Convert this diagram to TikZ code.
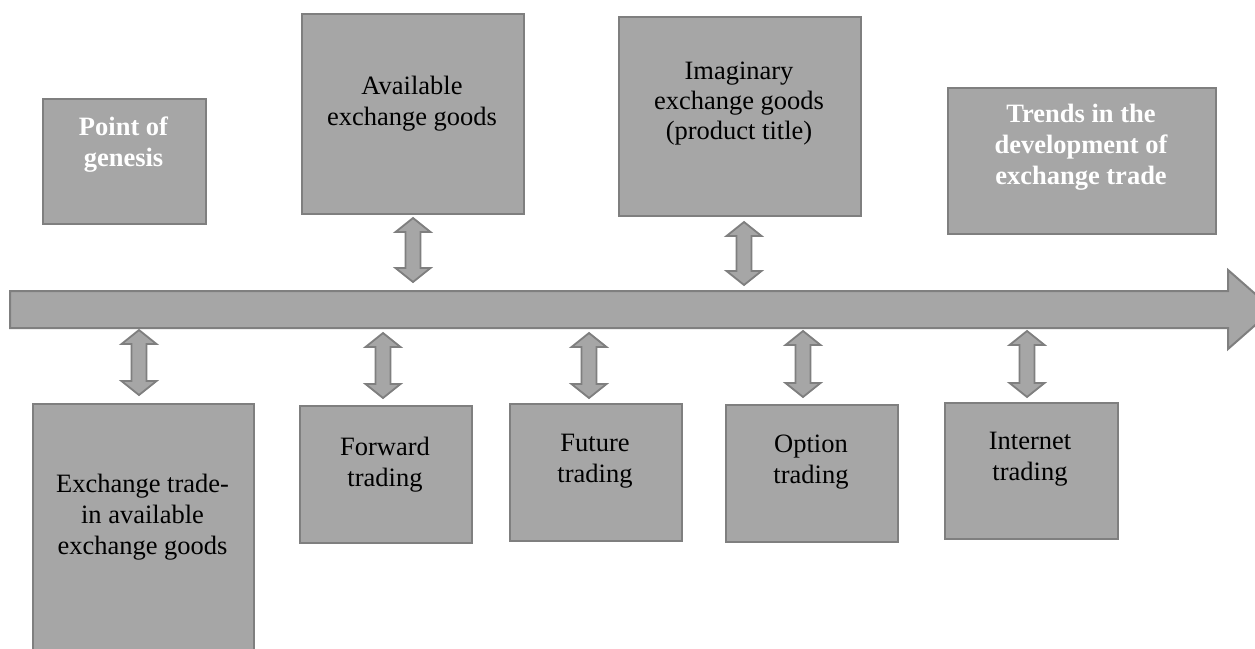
\documentclass[tikz,border=0pt]{standalone}
\usepackage{fontspec}
\setmainfont{Liberation Serif}
\definecolor{boxfill}{HTML}{A6A6A6}
\definecolor{boxline}{HTML}{7F7F7F}
\newcommand\vdarrow[4]{% name, x, top y, bottom y
  \coordinate (#1) at (#2,{(#3+#4)/2});
  \draw[dblarr] (#2,#3) -- ++(17.5,14) -- ++(-10,0) -- (#2+7.5,#4-14) -- ++(10,0)
    -- (#2,#4) -- ++(-17.5,-14) -- ++(10,0) -- (#2-7.5,#3+14) -- ++(-10,0) -- cycle;
}
\begin{document}
\begin{tikzpicture}[x=1pt,y=-1pt,
  box/.style={draw=boxline, fill=boxfill, line width=2pt, rectangle, inner sep=0pt, anchor=north west},
  lbl/.style={anchor=north, inner sep=0pt, align=center, font=\fontsize{26.5}{31}\selectfont, text=black},
  wlbl/.style={lbl, font=\fontsize{26.5}{31}\selectfont\bfseries, text=white},
  dblarr/.style={draw=boxline, fill=boxfill, line width=1.8pt, line join=miter},
  mainarr/.style={draw=boxline, fill=boxfill, line width=2pt, line join=miter}]
\useasboundingbox (0,0) rectangle (1255,648);
\clip (0,0) rectangle (1255,648);
\fill[white] (0,0) rectangle (1255,648);

% main timeline arrow
\draw[mainarr] (10,291) -- (1228,291) -- (1228,270) -- (1273,309.5) -- (1228,349) -- (1228,328) -- (10,328) -- cycle;
\coordinate (axis) at (10,309.5);

% top boxes
\node[box, minimum width=163, minimum height=125] (genesis) at (42,98) {};
\node[wlbl] (genesis-t) at (123.5,117) {Point of\\genesis};

\node[box, minimum width=222, minimum height=200] (avail) at (301,13) {};
\node[lbl] (avail-t) at (412,76) {Available\\exchange goods};

\node[box, minimum width=242, minimum height=199] (imag) at (618,16) {};
\node[lbl, font=\fontsize{26.5}{30}\selectfont] (imag-t) at (739,62) {Imaginary\\exchange goods\\(product title)};

\node[box, minimum width=268, minimum height=146] (trends) at (947,87) {};
\node[wlbl] (trends-t) at (1081,104) {Trends in the\\development of\\exchange trade};

% bottom boxes
\node[box, minimum width=221, minimum height=260] (exch) at (32,403) {};
\node[lbl] (exch-t) at (142.5,474) {Exchange trade-\\in available\\exchange goods};

\node[box, minimum width=172, minimum height=137] (fwd) at (299,405) {};
\node[lbl] (fwd-t) at (385,437) {Forward\\trading};

\node[box, minimum width=172, minimum height=137] (fut) at (509,403) {};
\node[lbl] (fut-t) at (595,434) {Future\\trading};

\node[box, minimum width=172, minimum height=137] (opt) at (725,404) {};
\node[lbl] (opt-t) at (811,435) {Option\\trading};

\node[box, minimum width=173, minimum height=136] (inet) at (944,402) {};
\node[lbl] (inet-t) at (1030,432) {Internet\\trading};

% double arrows
\vdarrow{a-avail}{413}{218}{282}
\vdarrow{a-imag}{744}{222}{285}
\vdarrow{a-exch}{139}{330}{395}
\vdarrow{a-fwd}{383}{333}{398}
\vdarrow{a-fut}{589}{333}{398}
\vdarrow{a-opt}{803}{331}{397}
\vdarrow{a-inet}{1027}{331}{397}
\end{tikzpicture}
\end{document}
